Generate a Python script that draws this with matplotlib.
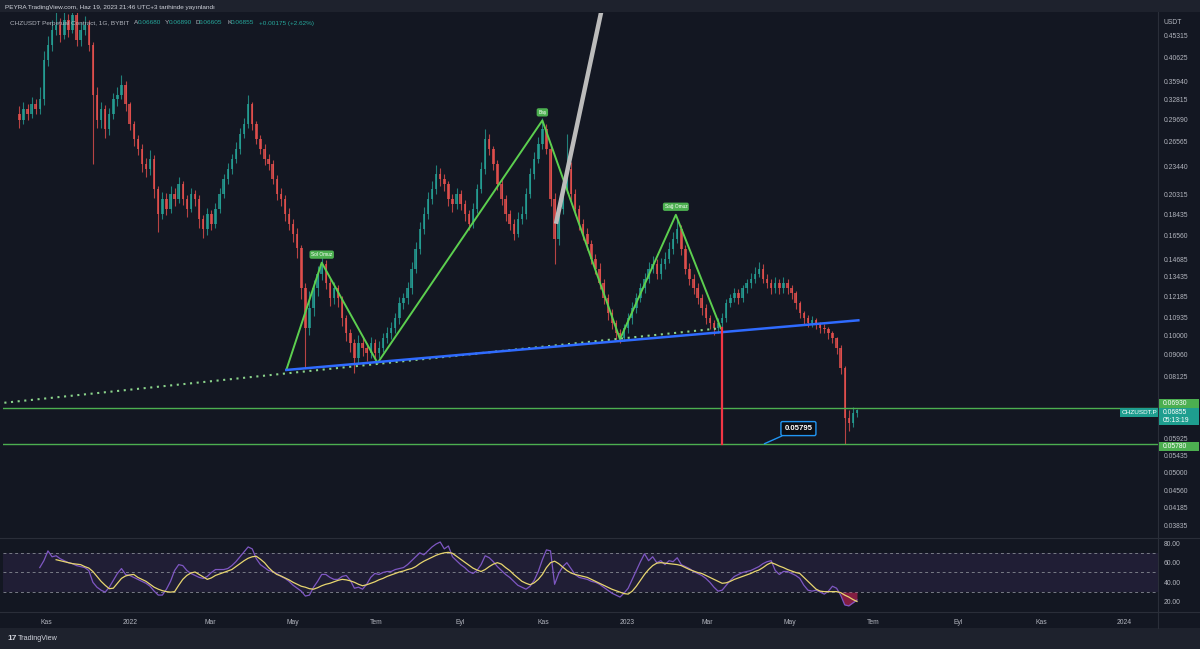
import datetime as dt
import matplotlib
matplotlib.use('Agg')
import matplotlib.pyplot as plt
import matplotlib.dates as mdates
from matplotlib.ticker import NullLocator, FixedLocator

plt.rcParams['font.family'] = ['Liberation Sans', 'DejaVu Sans']

# ---------------- data (3-day candles, CHZUSDT.P) ----------------
start_date = dt.date(2021, 10, 12)
step_days = 3
first_open = 0.305
closes = [
    0.297, 0.3125, 0.305, 0.3205, 0.3125, 0.329, 0.402, 0.433, 0.467, 0.479,
    0.455, 0.491, 0.467, 0.5035, 0.444, 0.467, 0.479, 0.433, 0.337, 0.297,
    0.3125, 0.283, 0.305, 0.329, 0.337, 0.354, 0.3205, 0.290, 0.269, 0.256,
    0.237, 0.231, 0.243, 0.209, 0.1845, 0.199, 0.189, 0.204, 0.199, 0.2145,
    0.199, 0.189, 0.204, 0.199, 0.180, 0.171, 0.1845, 0.1755, 0.189, 0.204,
    0.220, 0.231, 0.243, 0.256, 0.276, 0.290, 0.3205, 0.290, 0.269, 0.256,
    0.243, 0.237, 0.220, 0.204, 0.199, 0.1845, 0.1755, 0.167, 0.155, 0.1266,
    0.1036, 0.1145, 0.1266, 0.1365, 0.1435, 0.130, 0.1204, 0.1266, 0.1204, 0.1089,
    0.101, 0.0961, 0.0891, 0.0961, 0.0937, 0.0914, 0.0961, 0.0914, 0.0937, 0.0985,
    0.101, 0.1036, 0.1089, 0.1174, 0.1204, 0.1266, 0.140, 0.1548, 0.1711, 0.1845,
    0.199, 0.209, 0.2255, 0.220, 0.2145, 0.199, 0.194, 0.204, 0.194, 0.1845,
    0.1755, 0.189, 0.209, 0.231, 0.269, 0.256, 0.237, 0.2145, 0.199, 0.1845,
    0.1755, 0.167, 0.180, 0.1845, 0.204, 0.2255, 0.243, 0.262, 0.283, 0.256,
    0.199, 0.1627, 0.189, 0.209, 0.231, 0.204, 0.189, 0.1755, 0.167, 0.1587,
    0.147, 0.140, 0.130, 0.1204, 0.1117, 0.1062, 0.101, 0.0985, 0.1036, 0.1089,
    0.1145, 0.1204, 0.1266, 0.1331, 0.140, 0.1435, 0.1365, 0.1435, 0.147, 0.1548,
    0.1627, 0.1711, 0.1548, 0.140, 0.1331, 0.1266, 0.1204, 0.1145, 0.1089, 0.1062,
    0.1036, 0.1062, 0.1089, 0.1174, 0.1204, 0.1235, 0.1204, 0.1266, 0.130, 0.1331,
    0.1365, 0.140, 0.1331, 0.130, 0.1266, 0.130, 0.1266, 0.130, 0.1266, 0.1235,
    0.1174, 0.1117, 0.1089, 0.1062, 0.1078, 0.1062, 0.1036, 0.1030, 0.101, 0.0985,
    0.0937, 0.0848, 0.0659, 0.0643, 0.0676, 0.06855]
highs = [
    0.318, 0.325, 0.322, 0.333, 0.330, 0.350, 0.420, 0.452, 0.490, 0.510,
    0.495, 0.520, 0.505, 0.540, 0.515, 0.485, 0.500, 0.490, 0.440, 0.350,
    0.325, 0.320, 0.315, 0.340, 0.350, 0.372, 0.360, 0.325, 0.295, 0.275,
    0.262, 0.245, 0.255, 0.248, 0.212, 0.206, 0.205, 0.212, 0.210, 0.222,
    0.218, 0.203, 0.210, 0.208, 0.203, 0.183, 0.190, 0.188, 0.195, 0.210,
    0.226, 0.238, 0.250, 0.265, 0.284, 0.300, 0.336, 0.325, 0.295, 0.275,
    0.262, 0.250, 0.242, 0.225, 0.210, 0.203, 0.190, 0.180, 0.172, 0.158,
    0.130, 0.125, 0.132, 0.142, 0.151, 0.146, 0.133, 0.131, 0.129, 0.122,
    0.111, 0.103, 0.098, 0.100, 0.099, 0.096, 0.099, 0.098, 0.097, 0.101,
    0.104, 0.107, 0.112, 0.121, 0.124, 0.131, 0.145, 0.160, 0.177, 0.191,
    0.206, 0.218, 0.236, 0.232, 0.226, 0.218, 0.204, 0.210, 0.208, 0.198,
    0.188, 0.195, 0.215, 0.240, 0.283, 0.276, 0.260, 0.242, 0.220, 0.203,
    0.188, 0.180, 0.186, 0.192, 0.210, 0.232, 0.252, 0.272, 0.300, 0.290,
    0.262, 0.205, 0.196, 0.218, 0.2757, 0.240, 0.209, 0.193, 0.180, 0.172,
    0.162, 0.151, 0.144, 0.133, 0.123, 0.114, 0.108, 0.103, 0.106, 0.112,
    0.118, 0.124, 0.130, 0.137, 0.145, 0.149, 0.147, 0.148, 0.152, 0.160,
    0.168, 0.180, 0.174, 0.158, 0.144, 0.136, 0.130, 0.123, 0.117, 0.111,
    0.108, 0.109, 0.112, 0.120, 0.123, 0.127, 0.126, 0.129, 0.133, 0.137,
    0.141, 0.145, 0.143, 0.136, 0.133, 0.134, 0.133, 0.134, 0.133, 0.129,
    0.125, 0.119, 0.113, 0.111, 0.110, 0.109, 0.107, 0.106, 0.104, 0.102,
    0.099, 0.095, 0.0855, 0.0685, 0.0695, 0.0689]
lows = [
    0.285, 0.290, 0.296, 0.300, 0.305, 0.305, 0.320, 0.390, 0.420, 0.455,
    0.440, 0.445, 0.450, 0.460, 0.430, 0.430, 0.455, 0.420, 0.237, 0.285,
    0.285, 0.270, 0.275, 0.298, 0.318, 0.330, 0.310, 0.282, 0.260, 0.248,
    0.228, 0.222, 0.225, 0.200, 0.168, 0.180, 0.183, 0.185, 0.192, 0.195,
    0.193, 0.182, 0.186, 0.192, 0.172, 0.163, 0.166, 0.170, 0.172, 0.185,
    0.200, 0.214, 0.226, 0.238, 0.250, 0.270, 0.285, 0.282, 0.262, 0.250,
    0.236, 0.230, 0.214, 0.198, 0.192, 0.178, 0.170, 0.160, 0.148, 0.120,
    0.0848, 0.100, 0.110, 0.122, 0.132, 0.126, 0.116, 0.117, 0.115, 0.105,
    0.097, 0.092, 0.0827, 0.087, 0.090, 0.088, 0.089, 0.088, 0.089, 0.092,
    0.096, 0.098, 0.101, 0.106, 0.114, 0.117, 0.123, 0.137, 0.151, 0.167,
    0.180, 0.194, 0.204, 0.212, 0.207, 0.192, 0.186, 0.189, 0.188, 0.178,
    0.170, 0.172, 0.185, 0.205, 0.226, 0.248, 0.230, 0.208, 0.193, 0.178,
    0.170, 0.162, 0.164, 0.175, 0.180, 0.200, 0.220, 0.238, 0.256, 0.250,
    0.192, 0.1435, 0.158, 0.184, 0.205, 0.198, 0.183, 0.170, 0.162, 0.154,
    0.143, 0.136, 0.126, 0.117, 0.108, 0.103, 0.098, 0.096, 0.097, 0.101,
    0.106, 0.112, 0.118, 0.124, 0.130, 0.137, 0.133, 0.133, 0.140, 0.144,
    0.151, 0.159, 0.150, 0.136, 0.129, 0.123, 0.117, 0.111, 0.106, 0.103,
    0.100, 0.101, 0.104, 0.107, 0.115, 0.118, 0.117, 0.118, 0.124, 0.127,
    0.130, 0.134, 0.130, 0.127, 0.123, 0.124, 0.123, 0.124, 0.123, 0.120,
    0.114, 0.109, 0.106, 0.104, 0.104, 0.103, 0.101, 0.101, 0.098, 0.096,
    0.091, 0.082, 0.0578, 0.0615, 0.0630, 0.06605]

rsi_start = 5
rsi_values = [
    55, 62, 72, 66, 67, 64, 62, 60, 59, 57,
    56, 55, 52, 40, 35, 32, 30, 35, 42, 49,
    54, 48, 47, 45, 43, 41, 39, 36, 31, 27,
    27, 33, 41, 52, 58, 57, 52, 49, 47, 45,
    44, 46, 50, 53, 53, 53, 54, 57, 61, 66,
    71, 76, 74, 64, 58, 55, 52, 51, 49, 46,
    44, 41, 37, 34, 31, 26, 27, 35, 41, 48,
    48, 45, 43, 43, 46, 47, 42, 34, 35, 33,
    38, 45, 49, 48, 50, 51, 51, 53, 54, 55,
    58, 62, 66, 70, 68, 72, 76, 79, 81, 74,
    77, 66, 62, 58, 55, 51, 49, 52, 58, 67,
    65, 61, 56, 52, 48, 45, 41, 37, 35, 33,
    36, 42, 51, 63, 73, 72, 38, 49, 56, 60,
    54, 48, 45, 44, 43, 41, 40, 38, 35, 32,
    29, 27, 25, 29, 34, 43, 52, 61, 69, 62,
    66, 60, 62, 58, 62, 61, 65, 58, 56, 54,
    51, 49, 47, 44, 40, 35, 31, 32, 37, 42,
    46, 48, 50, 51, 52, 54, 56, 59, 61, 62,
    52, 48, 51, 51, 49, 47, 44, 37, 32, 31,
    32, 30, 28, 31, 36, 34, 27, 17, 16, 19,
    22]
ma_start = 9
rsi_ma_values = [
    63, 62, 61, 60, 59, 58.5, 58, 56, 54.5, 51,
    46, 41, 37, 33.5, 34, 39, 44, 46.5, 47.5, 48,
    45, 43, 41, 38, 35, 33, 31.5, 30.5, 30, 30.5,
    37, 43, 47, 49.5, 50.5, 48, 45.5, 43, 44.5, 47,
    48.5, 50, 51.5, 53, 56, 59, 62, 64.5, 66, 66.5,
    63.5, 60, 55, 51, 48, 46.5, 44.5, 42.5, 40, 38,
    36, 35, 33.5, 33, 34.5, 36.5, 38, 39, 40.5, 42,
    43, 42.5, 41.5, 40, 38, 36.5, 37.5, 39, 40.5, 42.5,
    44, 46, 47.5, 49, 50.5, 51.5, 53, 54, 56, 59,
    61.5, 63.5, 65.5, 67.5, 69, 70, 70.5, 69.5, 66.5, 63.5,
    60.5, 57.5, 54.5, 52.5, 51, 53, 56, 58.5, 60, 58.5,
    55, 52, 48, 44.5, 41, 39, 37.5, 39.5, 43, 48,
    55, 60, 61.5, 59, 55.5, 52, 49.5, 48, 47, 46,
    45, 43, 41, 39, 37, 35, 33, 31.5, 30, 28.5,
    28, 31, 36, 42, 48, 53, 57, 59.5, 60, 59.5,
    59, 58.5, 58, 57, 55, 53, 51.5, 50, 49, 47,
    45, 43, 41, 39, 39.5, 41, 43, 44.5, 46, 47.5,
    49, 51, 52.5, 55, 58, 60, 58.5, 56.5, 55, 53,
    51.5, 50, 49, 45, 41, 37, 33, 31, 30.5, 30.5,
    30.5, 30.5, 29.5, 27, 25, 22.5, 20.5]

price_ticks = [0.45315, 0.40625, 0.35940, 0.32815, 0.29690, 0.26565, 0.23440,
               0.20315, 0.18435, 0.16560, 0.14685, 0.13435, 0.12185, 0.10935,
               0.10000, 0.09060, 0.08125, 0.05925, 0.05435, 0.05000, 0.04560,
               0.04185, 0.03835]
time_ticks = [dt.date(2021, 11, 1), dt.date(2022, 1, 1), dt.date(2022, 3, 1), dt.date(2022, 5, 1),
              dt.date(2022, 7, 1), dt.date(2022, 9, 1), dt.date(2022, 11, 1), dt.date(2023, 1, 1),
              dt.date(2023, 3, 1), dt.date(2023, 5, 1), dt.date(2023, 7, 1), dt.date(2023, 9, 1),
              dt.date(2023, 11, 1), dt.date(2024, 1, 1)]
time_labels = ['Kas', '2022', 'Mar', 'May', 'Tem', 'Eyl', 'Kas', '2023', 'Mar', 'May', 'Tem',
               'Eyl', 'Kas', '2024']
rsi_ticks = [80, 60, 40, 20]

# drawings (date, price)
hs_dates = [dt.date(2022, 4, 26), dt.date(2022, 5, 22), dt.date(2022, 7, 2), dt.date(2022, 10, 31),
            dt.date(2022, 12, 27), dt.date(2023, 2, 6), dt.date(2023, 3, 11)]
hs_prices = [0.0839, 0.1442, 0.0869, 0.2957, 0.0980, 0.1836, 0.1036]
hs_labels = {1: 'Sol Omuz', 3: 'Baş', 5: 'Sağ Omuz'}
neck_dates = [dt.date(2022, 4, 26), dt.date(2023, 6, 20)]
neck_prices = [0.0839, 0.1078]
dotted_dates = [dt.date(2021, 10, 1), dt.date(2023, 3, 11)]
dotted_prices = [0.0711, 0.1036]
level_prices = [0.0693, 0.0578]
red_date = dt.date(2023, 3, 12)
red_prices = [0.1036, 0.0578]
gray_dates = [dt.date(2022, 11, 10), dt.date(2022, 12, 16)]
gray_prices = [0.1755, 0.56]
callout_anchor = (dt.date(2023, 4, 12), 0.0578)
callout_box = (dt.date(2023, 5, 7), 0.0624)
callout_text = '0.05795'

# ---------------- figure ----------------
W, H = 1200, 649
BG = '#131722'
FRAME = '#1e222d'
TXT = '#b2b5be'
UP = '#26a69a'
DN = '#ef5350'

fig = plt.figure(figsize=(W / 100, H / 100), dpi=100, facecolor=FRAME)


def rect(x0, y0, x1, y1):
    return [x0 / W, 1 - y1 / H, (x1 - x0) / W, (y1 - y0) / H]


bgax = fig.add_axes(rect(0, 12, W, 628))
bgax.set_facecolor(BG)
bgax.set_xticks([]); bgax.set_yticks([])
for s in bgax.spines.values():
    s.set_visible(False)
bgax.set_zorder(-5)

ax = fig.add_axes(rect(3, 13, 1158, 537))
axr = fig.add_axes(rect(3, 538, 1158, 611), sharex=ax)
for a in (ax, axr):
    a.set_facecolor(BG)
    for s in a.spines.values():
        s.set_visible(False)

dates = [start_date + dt.timedelta(days=step_days * i) for i in range(len(closes))]
xn = mdates.date2num(dates)
opens = [first_open] + closes[:-1]

body_cols = [UP if c >= o else DN for o, c in zip(opens, closes)]
ax.vlines(xn, lows, highs, colors=body_cols, linewidth=0.8, alpha=0.75, zorder=2)
bottoms = [min(o, c) for o, c in zip(opens, closes)]
heights = [max(abs(c - o), 0.0004) for o, c in zip(opens, closes)]
ax.bar(xn, heights, bottom=bottoms, width=step_days * 0.6, color=body_cols,
       alpha=0.75, linewidth=0, zorder=3)

ax.set_yscale('log')
ax.set_ylim(0.0361, 0.5086)
ax.set_xlim(mdates.date2num(dt.date(2021, 9, 30)), mdates.date2num(dt.date(2024, 1, 26)))
ax.yaxis.tick_right()
ax.yaxis.set_major_locator(FixedLocator(price_ticks))
ax.yaxis.set_minor_locator(NullLocator())
ax.set_yticklabels([f'{t:.5f}' for t in price_ticks])
ax.tick_params(axis='y', length=0, pad=4.2, labelsize=4.9, labelcolor=TXT)
ax.tick_params(axis='x', length=0, labelbottom=False)

# horizontal levels
for p in level_prices:
    ax.axhline(p, color='#4caf50', linewidth=1.0, zorder=4)

# dotted trend line
ax.plot(mdates.date2num(dotted_dates), dotted_prices, color='#8bd48b', linewidth=1.5,
        linestyle=(0, (1, 2.2)), zorder=4)
# neckline
ax.plot(mdates.date2num(neck_dates), neck_prices, color='#2f6bff', linewidth=1.8, zorder=6)
# H&S
ax.plot(mdates.date2num(hs_dates), hs_prices, color='#5ccf4f', linewidth=1.4, zorder=5)
for k, lab in hs_labels.items():
    ax.annotate(lab, (mdates.date2num(hs_dates[k]), hs_prices[k]), xytext=(0, 4),
                textcoords='offset points', ha='center', va='bottom', fontsize=3.4,
                color='white', zorder=8,
                bbox=dict(boxstyle='round,pad=0.35,rounding_size=0.4', fc='#4caf50', ec='none'))
# red vertical
ax.plot([mdates.date2num(red_date)] * 2, red_prices, color='#f23645', linewidth=1.6, zorder=6)
# gray line
ax.plot(mdates.date2num(gray_dates), gray_prices, color='#bcbcbc', linewidth=3.2,
        solid_capstyle='butt', zorder=6)
# callout
ax.annotate(callout_text, (mdates.date2num(callout_anchor[0]), callout_anchor[1]),
            xytext=(mdates.date2num(callout_box[0]), callout_box[1]), textcoords='data',
            ha='center', va='center', fontsize=5.6, fontweight='bold', color='white', zorder=9,
            bbox=dict(boxstyle='round,pad=0.45,rounding_size=0.2', fc='#0b0e14', ec='#2196f3', lw=1.0),
            arrowprops=dict(arrowstyle='-', color='#2196f3', lw=1.0, shrinkA=0, shrinkB=0))

# ---------------- RSI pane ----------------
rsi_x = xn[rsi_start:rsi_start + len(rsi_values)]
ma_x = xn[ma_start:ma_start + len(rsi_ma_values)]
axr.axhspan(30, 70, color='#7e57c2', alpha=0.12, lw=0, zorder=1)
for lvl in (70, 50, 30):
    axr.axhline(lvl, color='#787b86', linewidth=0.7, linestyle=(0, (3, 3)), zorder=2)
axr.plot(rsi_x, rsi_values, color='#7e57c2', linewidth=0.9, zorder=3)
axr.plot(ma_x, rsi_ma_values, color='#e8d66f', linewidth=0.9, zorder=4)
seg = slice(len(rsi_values) - 5, len(rsi_values))
axr.fill_between(rsi_x[seg], rsi_values[seg], 30, where=[v < 30 for v in rsi_values[seg]],
                 interpolate=True, color='#e0245e', alpha=0.55, lw=0, zorder=2)
axr.set_ylim(10.8, 85.1)
axr.yaxis.tick_right()
axr.set_yticks(rsi_ticks)
axr.set_yticklabels([f'{t:.2f}' for t in rsi_ticks])
axr.tick_params(axis='y', length=0, pad=4.2, labelsize=4.9, labelcolor=TXT)
axr.set_xticks(mdates.date2num(time_ticks))
axr.set_xticklabels(time_labels)
axr.tick_params(axis='x', length=0, pad=6.0, labelsize=4.9, labelcolor=TXT)

# separators
sep = '#2a2e39'
fig.add_artist(plt.Line2D([1158 / W] * 2, [1 - 12 / H, 1 - 628 / H], color=sep, lw=0.8))
fig.add_artist(plt.Line2D([0, 1], [1 - 537.5 / H] * 2, color=sep, lw=0.8))
fig.add_artist(plt.Line2D([0, 1], [1 - 611.5 / H] * 2, color=sep, lw=0.8))

# right axis labels
fig.text(1163 / W, 1 - 22 / H, 'USDT', color=TXT, fontsize=4.9, va='center', ha='left')


def box_label(ycen, text, fc, x0=1159, x1=1199, h=9, fs=4.9, tc='white'):
    fig.patches.append(plt.Rectangle((x0 / W, 1 - (ycen + h / 2) / H), (x1 - x0) / W, h / H,
                                     transform=fig.transFigure, fc=fc, ec='none', zorder=10))
    fig.text((x0 + 4) / W, 1 - ycen / H, text, color=tc, fontsize=fs, va='center', ha='left', zorder=11)


box_label(403.5, '0.06930', '#4caf50')
fig.patches.append(plt.Rectangle((1159 / W, 1 - 425 / H), 40 / W, 17 / H, transform=fig.transFigure,
                                 fc='#1e9e8f', ec='none', zorder=10))
fig.text(1163 / W, 1 - 412.5 / H, '0.06855', color='white', fontsize=4.9, va='center', zorder=11)
fig.text(1163 / W, 1 - 421 / H, '05:13:19', color='white', fontsize=4.9, va='center', zorder=11)
fig.patches.append(plt.Rectangle((1120 / W, 1 - 417 / H), 38 / W, 9 / H, transform=fig.transFigure,
                                 fc='#1e9e8f', ec='none', zorder=10))
fig.text(1139 / W, 1 - 412.5 / H, 'CHZUSDT.P', color='white', fontsize=4.6, va='center', ha='center', zorder=11)
box_label(446.5, '0.05780', '#4caf50')

# header
fig.text(5 / W, 1 - 7 / H, 'PEYRA TradingView.com, Haz 19, 2023 21:46 UTC+3 tarihinde yayınlandı',
         color='#d1d4dc', fontsize=4.6, va='center', ha='left')
hdr = [(10, 'CHZUSDT Perpetual Contract, 1G, BYBIT', TXT), (134, 'A', TXT), (137.5, '0.06680', UP),
       (165, 'Y', TXT), (168.5, '0.06890', UP), (195.5, 'D', TXT), (199, '0.06605', UP),
       (227, 'K', TXT), (230.5, '0.06855', UP), (259, '+0.00175 (+2.62%)', UP)]
for x, t, c in hdr:
    fig.text(x / W, 1 - 23 / H, t, color=c, fontsize=4.6, va='center', ha='left')

# footer logo
fig.text(7 / W, 1 - 638 / H, '17', color='#d1d4dc', fontsize=6, fontweight='bold', va='center')
fig.text(18 / W, 1 - 638 / H, 'TradingView', color='#d1d4dc', fontsize=5.2, va='center')

fig.savefig('out.png', dpi=100, facecolor=FRAME)
